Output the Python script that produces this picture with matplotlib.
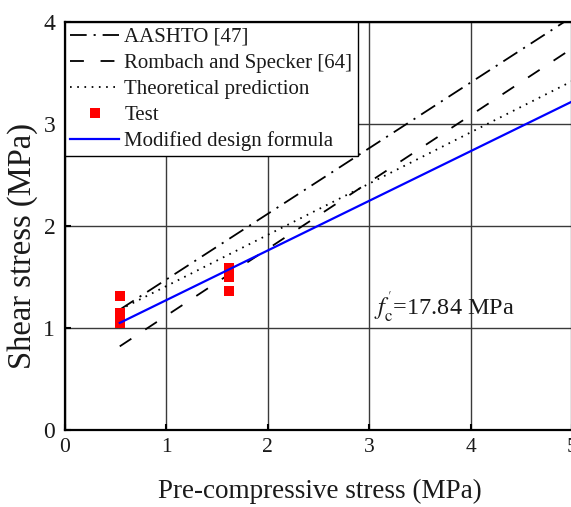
import matplotlib
matplotlib.use("Agg")
import matplotlib.pyplot as plt

plt.rcParams['font.family'] = ['Liberation Serif', 'DejaVu Serif']
plt.rcParams['mathtext.fontset'] = 'stix'
plt.rcParams['lines.scale_dashes'] = False

# ---- data ----
line_x = [0.54, 5.0]
aashto_y = [1.18, 4.05]
rombach_y = [0.82, 3.74]
theory_y = [1.18, 3.42]
modified_y = [1.05, 3.22]

test_x = [0.547, 0.547, 0.547, 0.547, 1.617, 1.617, 1.617]
test_y = [1.31, 1.15, 1.10, 1.05, 1.59, 1.50, 1.36]

x_ticks = [0, 1, 2, 3, 4, 5]
y_ticks = [0, 1, 2, 3, 4]

labels = ["AASHTO [47]", "Rombach and Specker [64]", "Theoretical prediction",
          "Test", "Modified design formula"]

fig = plt.figure(figsize=(5.71, 5.07), dpi=100)
ax = fig.add_axes([65/571, 1-430/507, 507/571, 408/507])

ax.plot(line_x, aashto_y, color='black', lw=1.3, dashes=(12, 5, 1.5, 5), label=labels[0], zorder=3)
ax.plot(line_x, rombach_y, color='black', lw=1.3, dashes=(10, 12), label=labels[1], zorder=3)
ax.plot(line_x, theory_y, color='black', lw=1.3, dashes=(1.2, 4), label=labels[2], zorder=3)
ax.plot(test_x, test_y, linestyle='none', marker='s', markersize=6.5, color='red',
        markeredgewidth=0, label=labels[3], zorder=4)
ax.plot(line_x, modified_y, color='#0000ff', lw=1.6, label=labels[4], zorder=5)

ax.set_xlim(0, 5)
ax.set_ylim(0, 4)
ax.set_xticks(x_ticks)
ax.set_yticks(y_ticks)
ax.grid(True, color='#3a3a3a', lw=1.0)
ax.set_axisbelow(True)

for s in ax.spines.values():
    s.set_linewidth(1.6)
    s.set_color('black')

ax.tick_params(axis='both', direction='in', length=4, width=1.5)
ax.tick_params(axis='x', labelsize=15.5, pad=6)
ax.tick_params(axis='y', labelsize=17, pad=7)
for t in ax.get_xticklabels() + ax.get_yticklabels():
    t.set_color('#1a1a1a')

ax.set_xlabel("Pre-compressive stress (MPa)", fontsize=19.5, va='center', color='#1a1a1a')
ax.xaxis.set_label_coords((320-65)/507, -(491-430)/408)
ax.set_ylabel("Shear stress (MPa)", fontsize=23.5, va='center', color='#1a1a1a')
ax.yaxis.set_label_coords((23-65)/507, (430-246)/408)

ax.text(3.05, (430-315)/102, r"$f_{\mathrm{c}}^{'}$=17.84 MPa", fontsize=17.5,
        va='baseline', ha='left', color='#1a1a1a')

leg = ax.legend(loc='upper left', bbox_to_anchor=(0, 1), borderaxespad=0,
                fontsize=15, frameon=True, fancybox=False, framealpha=1,
                edgecolor='black', handlelength=2.35, handletextpad=0.25,
                borderpad=0.25, labelspacing=0.31)
leg.get_frame().set_linewidth(1.0)
for t in leg.get_texts():
    t.set_color('#1a1a1a')

fig.savefig("out.png", dpi=100)
